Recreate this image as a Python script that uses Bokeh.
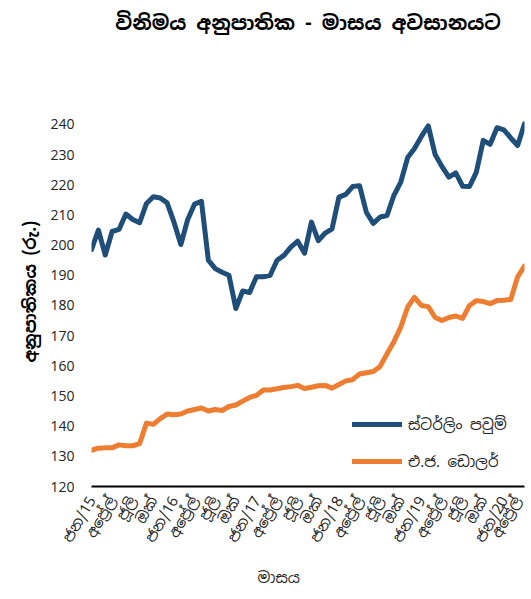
import math
from bokeh.plotting import figure
from bokeh.models import Range1d, FixedTicker, Legend, LegendItem, Title
from bokeh.embed import file_html
from bokeh.resources import INLINE

# Monthly end-of-month exchange rates, Jan 2015 - Apr 2020 (Rs.)
gbp = [198.5, 205.0, 196.7, 204.5, 205.2, 210.3, 208.5, 207.4, 213.8, 216.0,
       215.6, 214.0, 207.6, 200.2, 208.5, 213.6, 214.5, 195.0, 192.2, 191.0,
       190.0, 179.0, 184.8, 184.3, 189.5, 189.5, 190.0, 195.0, 196.6, 199.3,
       201.3, 197.3, 207.6, 201.5, 204.0, 205.4, 215.9, 216.8, 219.4, 219.7,
       210.8, 207.2, 209.3, 209.8, 216.5, 220.9, 229.0, 232.0, 236.0, 239.5,
       230.0, 226.0, 222.5, 223.9, 219.5, 219.4, 224.2, 234.7, 233.4, 238.9,
       238.2, 235.5, 233.0, 240.2]
usd = [132.0, 132.7, 132.8, 132.8, 133.8, 133.5, 133.5, 134.2, 141.0, 140.6,
       142.5, 144.0, 143.8, 144.0, 145.0, 145.5, 146.0, 145.0, 145.5, 145.2,
       146.5, 147.0, 148.3, 149.5, 150.2, 152.0, 152.0, 152.4, 152.8, 153.1,
       153.5, 152.5, 152.9, 153.4, 153.5, 152.6, 153.8, 155.0, 155.4, 157.3,
       157.7, 158.1, 159.8, 164.0, 168.0, 172.8, 179.5, 182.7, 180.0, 179.6,
       176.0, 175.0, 176.0, 176.5, 175.7, 180.0, 181.6, 181.3, 180.6, 181.6,
       181.7, 182.0, 189.5, 193.0]
tick_labels = ["ජන/15", "අප්‍රේල්", "ජූලි", "ඔක්", "ජන/16", "අප්‍රේල්", "ජූලි", "ඔක්",
               "ජන/17", "අප්‍රේල්", "ජූලි", "ඔක්", "ජන/18", "අප්‍රේල්", "ජූලි", "ඔක්",
               "ජන/19", "අප්‍රේල්", "ජූලි", "ඔක්", "ජන/20", "අප්‍රේල්"]
series_names = ["ස්ටර්ලිං පවුම්", "එ.ජ. ඩොලර්"]
title_text = "විනිමය අනුපාතික - මාසය අවසානයට"
y_title = "අනුපාතිකය (රු.)"
x_title = "මාසය"
y_ticks = list(range(120, 250, 10))

FONT = "Noto Sans Sinhala, Noto Sans, sans-serif"

months = list(range(len(gbp)))

p = figure(width=525, height=599, output_backend="svg", toolbar_location=None,
           x_range=Range1d(0, len(gbp) - 1), y_range=Range1d(120, 267.8),
           min_border_left=91, min_border_right=1, min_border_top=40,
           min_border_bottom=112)
p.outline_line_color = None
p.grid.grid_line_color = None
p.background_fill_color = "white"

p.title.text = title_text
p.title.align = "center"
p.title.text_font = FONT
p.title.text_font_size = "20px"
p.title.text_font_style = "bold"
p.title.text_color = "#000000"

r1 = p.line(months, gbp, line_color="#1F4E79", line_width=5, line_join="round", line_cap="round")
r2 = p.line(months, usd, line_color="#ED7D31", line_width=5, line_join="round", line_cap="round")

xa = p.xaxis[0]
xa.ticker = FixedTicker(ticks=list(range(0, len(gbp), 3)))
xa.major_label_overrides = {i * 3: lab for i, lab in enumerate(tick_labels)}
xa.major_label_orientation = math.pi / 3
xa.major_tick_line_color = None
xa.minor_tick_line_color = None
xa.axis_line_color = "#000000"
xa.axis_line_width = 2
xa.major_label_text_font = FONT
xa.major_label_text_font_size = "15px"
xa.major_label_text_color = "#262626"
xa.major_label_standoff = 5

ya = p.yaxis[0]
ya.ticker = FixedTicker(ticks=y_ticks)
ya.axis_line_color = None
ya.major_tick_line_color = None
ya.minor_tick_line_color = None
ya.major_label_text_font = FONT
ya.major_label_text_font_size = "14px"
ya.major_label_text_color = "#262626"
ya.major_label_standoff = 11

xt = Title(text=x_title, align="left", offset=166, standoff=25,
           text_font=FONT, text_font_size="15px", text_font_style="normal",
           text_color="#262626")
p.add_layout(xt, "below")

yt = Title(text=y_title, align="left", offset=124, standoff=14,
           text_font=FONT, text_font_size="17px", text_font_style="bold",
           text_color="#000000")
p.add_layout(yt, "left")

legend = Legend(items=[LegendItem(label=series_names[0], renderers=[r1]),
                       LegendItem(label=series_names[1], renderers=[r2])],
                location=(261, 15), padding=0, margin=0, spacing=17,
                glyph_width=50, glyph_height=20, label_height=20,
                label_standoff=6, border_line_color=None,
                background_fill_alpha=0,
                label_text_font=FONT, label_text_font_size="15px",
                label_text_color="#262626")
p.add_layout(legend, "center")

open("out.html", "w").write(file_html(p, INLINE))
